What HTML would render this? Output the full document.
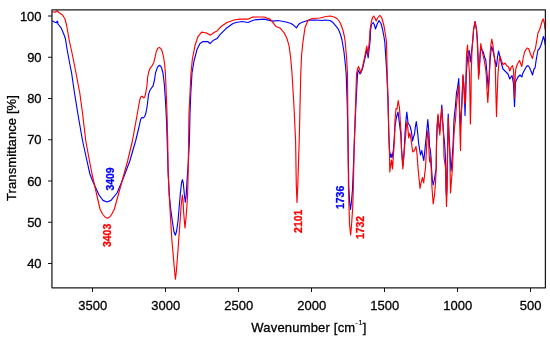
<!DOCTYPE html>
<html><head><meta charset="utf-8"><title>IR spectrum</title>
<style>
html,body{margin:0;padding:0;background:#fff;}
body{width:550px;height:340px;overflow:hidden;}
svg{display:block;font-family:"Liberation Sans",sans-serif;}
.ax line{stroke:#111;stroke-width:1;}
.lb text{font-size:13px;fill:#000;stroke:#000;stroke-width:0.3px;}
.pk{font-size:10.45px;font-weight:bold;stroke-width:0.3px;}
</style></head><body>
<svg width="550" height="340" viewBox="0 0 550 340">
<rect x="0" y="0" width="550" height="340" fill="#fff"/>
<clipPath id="c"><rect x="51.95" y="9.75" width="493.45" height="278.0"/></clipPath>
<g clip-path="url(#c)" fill="none" stroke-width="1.15" stroke-linejoin="round" stroke-linecap="round">
<polyline stroke="#0000ff" points="52,20.8 55,22.2 56.4,22.8 57.1,21.2 57.6,21.3 57.9,23.8 58.8,25 60.9,27.6 62.5,31 64.5,36 65.5,39 67,49 70,65 71.6,73 74.5,93 78.4,117 82.6,141 87,161 89.9,174 92.6,181 99,195 103,200.4 107,202 111,200.4 117,193 123,179 129.8,161 135.6,141 139,127 140.6,119.6 141.3,118.2 142.05,117.4 142.8,117.7 143.5,118 144.7,116.5 145.9,113 147.05,107 147.9,100 148.6,94.1 150.1,90 153.05,85.9 154.5,80 155.5,73 157.3,67.6 158.6,65.8 159.6,65.4 160.6,66 161.6,68 163,73 164.4,85 165.6,103 166.6,123 167.2,141 168.1,171 169.3,195 170.7,209 172.6,223 174,232 175.4,235.2 176.6,231 178,221 179,209 180.4,193 181.5,183 182.4,179.6 183.3,183 184.4,195 185.3,202.3 186.2,195 187,181 188.4,161 189.4,141 190,113 190.8,93 192,73 194,61 197,49.55 200,43.55 203,41.55 207.6,41.55 210,43.55 211.5,42.05 213,40.55 217,38.55 220,34.55 226,28.55 233,23.55 236,22.55 242,21.55 248,22.55 254,19.95 264,19.15 273,21.15 278,20.55 286,22.05 291,23.55 294,25.55 296.5,27.85 298,25.35 299.5,23.55 303,22.05 309,20.15 316,19.95 322,20.55 325,20.05 330,20.55 333,22.55 336,26.05 338.5,29.5 340.5,34.5 342,40 344,52 345.5,66 346.2,74 347.3,107 348,141 348.8,187 349.6,202 350.5,209.5 351.3,203 352.5,190 354.4,141 355.8,107 357.5,74 358.2,70 359,71.5 360,74 361.5,71 363,67 365,58 366.8,50 367.5,54 368.2,57.8 368.8,52 369.5,46 370.2,40 370.5,31 371.5,24.5 373.2,22.5 374.4,25 375.5,29 377,24.5 379,20.5 381,23.5 382.5,29 384,37 384.8,42 386.8,73 388,100 388.8,134 389.5,150 390.5,157 391.2,154 392,158 393.5,149 394.5,134 395,126 396.5,117 398,112 399,120 400,128 400.8,134 401.5,149 402.5,161 402.9,166 404,154 405,134 406,120 406.8,112 407.5,118 408,123 410,126 411.5,132 412.5,141 413.5,137 414.5,134 415.5,126 416.3,121.5 417,127 417.8,134 418.5,142 419.5,149 420.5,155 421.8,150.5 423,157 423.8,160.5 425,149 426,139 426.5,134 427.8,119.5 429,134 429.5,147 430.2,149 431,157 431.5,168 432.3,180 433.2,185 434.3,180 435.6,172 436.2,168 436.5,144 437.2,125 438.2,116 439,126 439.8,131 440.8,118 441.8,105 442.8,122 443.6,134 444.5,142 445.3,155 445.7,168 446.1,190 446.5,196 446.9,190 447.3,168 447.7,144 448.2,114 449,134 450,154 451,171 452,160 453,146 453.5,134 454,120 454.7,112.5 455.3,108 456.5,92.5 457.5,88 458.8,78.5 459.3,100 460,120 460.5,126 460.8,120 461.5,110 462,100 463,76 464,88 464.6,100 465,115.5 465.7,95 466.3,74 467.5,58 468.5,52.5 469.2,50.5 469.8,56 470.3,62 471,58 471.4,52.5 471.9,49 472.8,40 473.6,30 475.1,21.5 476.6,30 477.4,40 478.2,60 478.7,75 479.4,68 480.2,55 480.8,48 482,50 483.5,52.5 484.5,57 485.8,60 486.5,68 487.2,76 488.3,89 489.2,76 490,62 491,50 491.8,46.5 493.5,53 495,61 496.5,66.5 497.5,57 498.5,51 500,57 501.5,64 503,69 505.5,71.5 508,74 509.8,79 511,77 512,75.5 513.5,84 514.5,106.5 515.5,82 518,77 520,75 522,77 522.5,74 524.5,70 526.5,66.5 528,65.5 529.5,67.5 531,71 532.5,75 534,69 535,68 536.5,58 538,50 539.5,48.5 541,45 542.5,40 543.5,36.5 544.5,40 545.2,45"/>
<polyline stroke="#ff0000" points="52,11.8 55,12.2 57,10.8 59,12.5 62.5,15 65,19 66.5,25 68,33 69,39 72,53 76,73 79.8,93 82.5,113 85.8,141 89.5,161 92,174 93.6,181 100,209 102.5,214 105,217 107.6,218.2 110,216.8 112,213.8 114.4,209 121,185 127.6,161 132.4,141 136,121 138.5,107 139.8,100 140.5,97.6 141.2,96.5 141.9,96.2 142.8,97 143.6,97.7 144.3,97.5 144.8,96.8 145.7,93 146.9,86 147.3,82 147.5,78 148.7,72 149.9,68.6 152.2,65.6 153.7,62.7 154.9,58 156.3,51.5 157.8,48.4 159.2,47.4 160.6,48.3 161.9,50.6 163,54.5 163.7,58 164.6,64 165.4,73 166.2,93 167,113 167.7,141 168.1,172 169.2,195 170,209 171.8,239 174.5,270 175.4,279.3 176.3,272 178,250 180,222 181.2,205 182.4,195 183,200 183.6,212 185,228 186,218 187,205 187.6,195 188.2,171 188.6,141 189,113 190,93 191,73 192.4,59 195,45.55 198,36.55 201.6,32.15 204,32.55 207,33.15 210.4,35.15 212,34.05 214,32.55 217,30.95 221,26.55 227,22.55 234,19.95 240,19.15 248,19.15 252,17.15 258,16.95 264,16.95 270,19.15 273,22.55 276,26.55 280,27.95 284,32.55 287,38.55 289,45.55 290.6,57 292,73 294,107 295.6,141 296.3,185 297,202.5 297.8,185 299.2,141 300,107 300.8,73 301.6,55 303,41.55 305,27.55 308,20.55 312,18.55 320,17.95 326,16.55 330.5,16.05 334,17.05 337,18.5 339.5,21.5 341.5,26 343,30.5 344.5,37 345.2,42 346.5,57 347.5,74 348,141 348.5,190 349.5,224 350.6,235 351.1,230 351.6,224 352.7,208 353.4,185 354.3,141 355.5,107 356.5,74 357.5,69 358.5,66.5 359.5,69 361,73 362.5,67 364,60 366,50 366.8,46 367.4,50 368,55 368.6,48 369.5,40 370,30 371.5,21 372.6,17.5 373.7,16 375,18 376.2,21 377.5,18 379.5,15.5 381,16.5 382,18.5 384,26 385.5,35 386.5,42 387.2,73 388,100 388.8,134 389.5,154 389.8,172 390.5,166 391.5,160 392.5,169 393.5,154 394.5,139 395,120 396,108.5 397,109 398.2,100.5 399.5,108 400.5,125 401.2,134 401.5,149 402.5,164 402.8,169 404,154 405,142 405.8,134 406.4,126 407,121.5 407.7,127 408.3,133 408.7,138 409.8,133 411,139 412,147 412.8,152 414.5,150.5 416,146.5 417,154 418,168 419.5,183 420,188.5 421,183 422.5,177.5 423.7,183 424.8,173 425.5,168 426.2,154 427,139 427.8,130.5 428.5,139 429,150 429.6,162 430.3,157 431.2,168 432,188 433.2,204 434.5,195 435.5,183 436.2,168 436.5,144 437.2,125 438,114 438.8,125 439.8,135 440.8,120 441.8,108.5 442.8,125 443.5,134 444,157 445.5,168 446,190 446.5,206.5 447,190 447.3,168 447.7,144 448.2,118 448.8,134 449.8,154 450.5,193 451.5,180 452.5,168 453.5,144 454,134 454.5,127 455.5,120 456.2,108 457,100 457.8,92 458.8,85.5 459.3,100 460,134 460.5,150.5 460.8,134 461.5,110 462,100 463,74.5 464,88 464.6,100 465,104 465.5,100 466,74 466.5,55 467.5,45 468.5,60 469.5,74 470,100 470.4,124 471,100 471.2,74 472,50 472.8,40 473.5,30 475,21.5 476.5,30 477.2,40 478,60 478.5,79 479.2,72 480,55 480.8,43.5 482.5,53 484,59 485.5,68 486.2,74 487,90 487.8,102.5 488.6,90 489.3,74 490,55 491,44 491.8,39 493,46 494.5,58 495.3,66 495.8,90 496.5,116.5 497.2,95 498,74 499,62 500,56.5 501.5,61 503,64.5 505,63.2 507,66 508.5,67 509.8,71 511,67.5 512.5,65.5 513.5,70 514.1,85 514.5,98 514.9,85 515.3,74 515.8,69 517.5,64 519.5,60.5 521.8,66.5 523,59 524.5,52 527,48 528.5,48.5 530.5,54 532.5,58.5 533.8,52 535,50 536,45 536.8,40 538,33 539.5,30 541,25 542.5,20 543.3,19 544.5,24 545,29"/>
</g>
<rect x="51.95" y="9.75" width="493.45" height="278.0" fill="none" stroke="#1a1a1a" stroke-width="1.25" stroke-linejoin="round"/>
<g class="ax"><line x1="48" y1="263.50" x2="52" y2="263.50"/><line x1="48" y1="222.25" x2="52" y2="222.25"/><line x1="48" y1="181.00" x2="52" y2="181.00"/><line x1="48" y1="139.75" x2="52" y2="139.75"/><line x1="48" y1="98.50" x2="52" y2="98.50"/><line x1="48" y1="57.25" x2="52" y2="57.25"/><line x1="48" y1="16.00" x2="52" y2="16.00"/><line x1="530.50" y1="288" x2="530.50" y2="292"/><line x1="457.50" y1="288" x2="457.50" y2="292"/><line x1="384.50" y1="288" x2="384.50" y2="292"/><line x1="311.50" y1="288" x2="311.50" y2="292"/><line x1="238.50" y1="288" x2="238.50" y2="292"/><line x1="165.50" y1="288" x2="165.50" y2="292"/><line x1="92.50" y1="288" x2="92.50" y2="292"/></g>
<g class="lb"><text x="41.6" y="268.00" text-anchor="end">40</text><text x="41.6" y="226.75" text-anchor="end">50</text><text x="41.6" y="185.50" text-anchor="end">60</text><text x="41.6" y="144.25" text-anchor="end">70</text><text x="41.6" y="103.00" text-anchor="end">80</text><text x="41.6" y="61.75" text-anchor="end">90</text><text x="41.6" y="20.50" text-anchor="end">100</text><text x="530.70" y="309.9" text-anchor="middle">500</text><text x="457.70" y="309.9" text-anchor="middle">1000</text><text x="384.70" y="309.9" text-anchor="middle">1500</text><text x="311.70" y="309.9" text-anchor="middle">2000</text><text x="238.70" y="309.9" text-anchor="middle">2500</text><text x="165.70" y="309.9" text-anchor="middle">3000</text><text x="92.70" y="309.9" text-anchor="middle">3500</text>
<text x="309.0" y="331.5" text-anchor="middle" style="font-size:13px;letter-spacing:0.19px">Wavenumber [cm<tspan dy="-6.6" style="font-size:8px;stroke-width:0.1px">-1</tspan><tspan dy="6.6">]</tspan></text>
<text transform="translate(15.5,148.0) rotate(-90)" text-anchor="middle" style="font-size:13px;letter-spacing:0.1px">Transmittance [%]</text>
</g>
<g class="pk">
<text transform="translate(113.6,179) rotate(-90)" text-anchor="middle" fill="#0000ff" stroke="#0000ff">3409</text>
<text transform="translate(111.3,235.4) rotate(-90)" text-anchor="middle" fill="#ff0000" stroke="#ff0000">3403</text>
<text transform="translate(301.9,221.3) rotate(-90)" text-anchor="middle" fill="#ff0000" stroke="#ff0000">2101</text>
<text transform="translate(343.8,197.4) rotate(-90)" text-anchor="middle" fill="#0000ff" stroke="#0000ff">1736</text>
<text transform="translate(364.0,227.5) rotate(-90)" text-anchor="middle" fill="#ff0000" stroke="#ff0000">1732</text>
</g>
</svg>
</body></html>
